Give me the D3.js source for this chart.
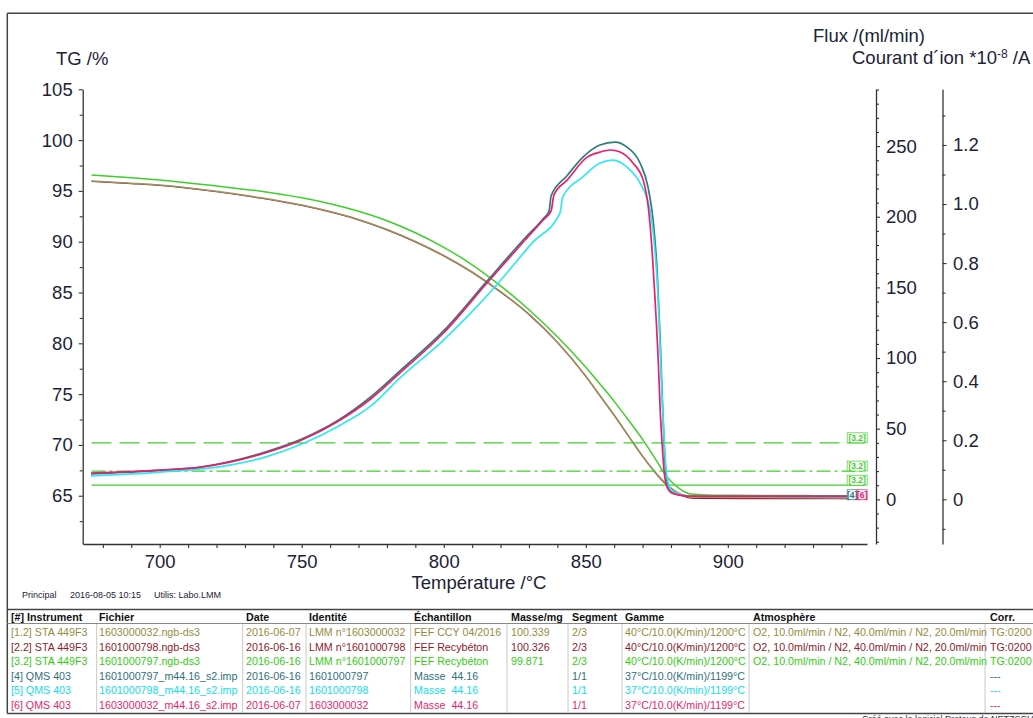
<!DOCTYPE html>
<html><head><meta charset="utf-8">
<script src="https://cdn.jsdelivr.net/npm/d3@7"></script>
<style>
body{margin:0;background:#fff;}
svg{display:block;font-family:"Liberation Sans",Arial,sans-serif;}
</style>
</head><body>
<svg id="c" width="1033" height="718"></svg>
<script>
// ---------------- DATA ----------------
const tgTemps = [676,690,700,720,735,750,760,770,780,790,800,810,820,830,840,850,855,860,865,870,875,878,881,884,887,895,910,930,948];
const tg12 = [95.97,95.76,95.58,94.96,94.35,93.61,92.97,92.19,91.20,90.02,88.64,87.02,85.10,82.88,80.13,76.78,74.86,72.94,70.92,68.91,67.14,66.25,65.56,65.09,64.87,64.84,64.82,64.80,64.78];
const tg22 = [95.93,95.72,95.54,94.92,94.31,93.57,92.93,92.15,91.16,89.98,88.60,86.98,85.06,82.84,80.09,76.74,74.82,72.90,70.88,68.86,67.09,66.19,65.49,65.00,64.76,64.73,64.72,64.71,64.70];
const tg32 = [96.56,96.29,96.07,95.48,94.99,94.32,93.73,92.99,92.06,90.88,89.45,87.73,85.66,83.30,80.64,77.64,75.99,74.29,72.45,70.55,68.41,67.08,66.15,65.51,65.17,65.05,65.03,65.01,64.99];

const fluxTemps = [676,948];
const fluxLevels = [40,20,10];

const ion4T = [675.8,700,714.5,724.7,737.1,750,762.4,774.7,784.6,800,815.6,828.6,835,837.1,837.8,843.4,849,855,860.3,864.5,869.1,871.9,873.7,875.1,876.2,876.9,877.6,878.3,879.4,881.5,886.8,948];
const ion4  = [0.086,0.098,0.109,0.128,0.160,0.204,0.265,0.350,0.435,0.571,0.743,0.885,0.950,0.977,1.028,1.096,1.159,1.200,1.210,1.193,1.139,1.058,0.946,0.776,0.540,0.353,0.184,0.079,0.035,0.018,0.011,0.010];
const ion5T = [675.8,700,724.7,737.1,750,762.4,774.7,784.6,800,809.2,818,831.4,840.9,841.9,849,855,859.6,864.5,869.1,872.6,874.4,875.5,876.2,876.9,877.6,878.3,879.1,880.4,886.8,948];
const ion5  = [0.079,0.092,0.116,0.143,0.187,0.245,0.319,0.411,0.540,0.628,0.719,0.871,0.969,1.024,1.092,1.139,1.149,1.125,1.071,0.980,0.834,0.675,0.506,0.337,0.201,0.099,0.052,0.028,0.011,0.008];
const ion6T = [675.8,700,714.5,724.7,737.1,750,762.4,774.7,784.6,800,815.6,828.6,835,837.8,838.8,843.4,850.5,855,858.6,862.1,866.6,870.2,872,873.4,874.4,875.5,876.2,876.9,877.6,878.6,880.4,885.7,948];
const ion6  = [0.089,0.099,0.109,0.126,0.157,0.201,0.262,0.343,0.428,0.564,0.737,0.878,0.946,0.977,1.031,1.081,1.159,1.176,1.183,1.176,1.139,1.081,0.990,0.834,0.675,0.472,0.302,0.184,0.092,0.042,0.021,0.011,0.010];

const xTicks = [700,750,800,850,900];
const xMinor = [680,690,710,720,730,740,760,770,780,790,810,820,830,840,860,870,880,890,910,920,930,940];
const tgTicks = [65,70,75,80,85,90,95,100,105];
const tgMinor = [62.5,67.5,72.5,77.5,82.5,87.5,92.5,97.5,102.5];
const fluxTicks = [0,50,100,150,200,250];
const fluxMinor = [-30,-20,-10,10,20,30,40,60,70,80,90,110,120,130,140,160,170,180,190,210,220,230,240,260,270,280,290];
const ionTicks = [0,0.2,0.4,0.6,0.8,1.0,1.2];
const ionMinor = [-0.1,0.1,0.3,0.5,0.7,0.9,1.1,1.3];

const tableHeader = ["[#] Instrument","Fichier","Date","Identité","Échantillon","Masse/mg","Segment","Gamme","Atmosphère","Corr."];
const tableRows = [
 ["[1.2] STA 449F3","1603000032.ngb-ds3","2016-06-07","LMM n°1603000032","FEF CCY 04/2016","100.339","2/3","40°C/10.0(K/min)/1200°C","O2, 10.0ml/min / N2, 40.0ml/min / N2, 20.0ml/min","TG:0200"],
 ["[2.2] STA 449F3","1601000798.ngb-ds3","2016-06-16","LMM n°1601000798","FEF Recybéton","100.326","2/3","40°C/10.0(K/min)/1200°C","O2, 10.0ml/min / N2, 40.0ml/min / N2, 20.0ml/min","TG:0200"],
 ["[3.2] STA 449F3","1601000797.ngb-ds3","2016-06-16","LMM n°1601000797","FEF Recybéton","99.871","2/3","40°C/10.0(K/min)/1200°C","O2, 10.0ml/min / N2, 40.0ml/min / N2, 20.0ml/min","TG:0200"],
 ["[4] QMS 403","1601000797_m44.16_s2.imp","2016-06-16","1601000797","Masse  44.16","","1/1","37°C/10.0(K/min)/1199°C","","---"],
 ["[5] QMS 403","1601000798_m44.16_s2.imp","2016-06-16","1601000798","Masse  44.16","","1/1","37°C/10.0(K/min)/1199°C","","---"],
 ["[6] QMS 403","1603000032_m44.16_s2.imp","2016-06-07","1603000032","Masse  44.16","","1/1","37°C/10.0(K/min)/1199°C","","---"]
];

// ---------------- STYLE ----------------
const col = {olive:"#9d9460", oliveTxt:"#9a8a3e", dred:"#8e1a2a", green:"#3fcf2a", greenTxt:"#33cc11",
             teal:"#2e7b7e", tealTxt:"#2f6f7a", cyan:"#2ee8f5", cyanTxt:"#14dcea", pink:"#ea1e6c"};
const rowColors = [col.oliveTxt, col.dred, col.greenTxt, col.tealTxt, col.cyanTxt, col.pink];
const txt = "#1d2236";

const svg = d3.select("#c");

const x = d3.scaleLinear([673,949],[83,867]);
const yTG = d3.scaleLinear([60.25,105],[544,89.3]);
const yFlux = d3.scaleLinear([-31.6,290.2],[544,89.3]);
const yIon = d3.scaleLinear([-0.1514,1.3886],[544,89.3]);

// frame
svg.append("line").attr("x1",7.3).attr("x2",1033).attr("y1",13.3).attr("y2",13.3).attr("stroke","#444").attr("stroke-width",1.5);
svg.append("line").attr("x1",7.3).attr("x2",7.3).attr("y1",13.3).attr("y2",713.5).attr("stroke","#444").attr("stroke-width",1.5);

function styleAxis(g){
  g.selectAll(".domain").attr("stroke","#333").attr("stroke-width",1.3);
  g.selectAll(".tick line").attr("stroke","#333").attr("stroke-width",1.1);
  g.selectAll(".tick text").attr("fill",txt).attr("font-size","18.5px").attr("font-family","Liberation Sans, Arial, sans-serif");
}
// left axis
const gL = svg.append("g").attr("transform","translate(82.7,0)")
  .call(d3.axisLeft(yTG).tickValues(tgTicks).tickSize(4).tickSizeOuter(0).tickPadding(6));
styleAxis(gL);
const gLm = svg.append("g").attr("transform","translate(82.7,0)")
  .call(d3.axisLeft(yTG).tickValues(tgMinor).tickSize(3).tickFormat(""));
gLm.select(".domain").remove(); styleAxis(gLm);

// bottom axis
const gB = svg.append("g").attr("transform","translate(0,544)")
  .call(d3.axisBottom(x).tickValues(xTicks).tickSize(4).tickSizeOuter(0).tickPadding(7));
styleAxis(gB);
const gBm = svg.append("g").attr("transform","translate(0,544)")
  .call(d3.axisBottom(x).tickValues(xMinor).tickSize(4).tickFormat(""));
gBm.select(".domain").remove(); styleAxis(gBm);

// right flux axis
const gF = svg.append("g").attr("transform","translate(876,0)")
  .call(d3.axisRight(yFlux).tickValues(fluxTicks).tickSize(4).tickSizeOuter(0).tickPadding(6));
styleAxis(gF);
const gFm = svg.append("g").attr("transform","translate(876,0)")
  .call(d3.axisRight(yFlux).tickValues(fluxMinor).tickSize(3).tickFormat(""));
gFm.select(".domain").remove(); styleAxis(gFm);

// right ion axis
const gI = svg.append("g").attr("transform","translate(942.5,0)")
  .call(d3.axisRight(yIon).tickValues(ionTicks).tickSize(4).tickSizeOuter(0).tickPadding(6.5)
        .tickFormat(d => d===0 ? "0" : d.toFixed(1)));
styleAxis(gI);
const gIm = svg.append("g").attr("transform","translate(942.5,0)")
  .call(d3.axisRight(yIon).tickValues(ionMinor).tickSize(3).tickFormat(""));
gIm.select(".domain").remove(); styleAxis(gIm);

// titles
svg.append("text").attr("x",56).attr("y",65).attr("font-size","18.5px").attr("fill",txt).text("TG /%");
svg.append("text").attr("x",813).attr("y",42).attr("font-size","18.5px").attr("fill",txt).text("Flux /(ml/min)");
const ct = svg.append("text").attr("x",852).attr("y",64).attr("font-size","18.5px").attr("fill",txt);
ct.append("tspan").text("Courant d´ion *10");
ct.append("tspan").attr("font-size","12px").attr("dy",-6).text("-8");
ct.append("tspan").attr("dy",6).text(" /A");
svg.append("text").attr("x",479).attr("y",589).attr("text-anchor","middle").attr("font-size","18.5px").attr("fill",txt).text("Température /°C");

svg.append("text").attr("x",22).attr("y",598).attr("font-size","9px").attr("fill",txt).text("Principal");
svg.append("text").attr("x",70).attr("y",598).attr("font-size","9px").attr("fill",txt).text("2016-08-05 10:15");
svg.append("text").attr("x",154).attr("y",598).attr("font-size","9px").attr("fill",txt).text("Utilis: Labo.LMM");

// ---------------- LINES ----------------
const zip = (a,b) => a.map((v,i)=>[v,b[i]]);
const lineTG = d3.line().x(d=>x(d[0])).y(d=>yTG(d[1])).curve(d3.curveMonotoneX);
const lineIon = d3.line().x(d=>x(d[0])).y(d=>yIon(d[1])).curve(d3.curveMonotoneX);
const lineFlux = d3.line().x(d=>x(d[0])).y(d=>yFlux(d[1]));

const plot = svg.append("g");
plot.append("path").attr("d",lineTG(zip(tgTemps,tg22))).attr("fill","none").attr("stroke",col.dred).attr("stroke-width",1.2);
plot.append("path").attr("d",lineTG(zip(tgTemps,tg12))).attr("fill","none").attr("stroke",col.olive).attr("stroke-width",1.5);
plot.append("path").attr("d",lineTG(zip(tgTemps,tg32))).attr("fill","none").attr("stroke",col.green).attr("stroke-width",1.5);

const dashes = ["20,8","14,4,3,4",null];
fluxLevels.forEach((lv,i)=>{
  const p = plot.append("path").attr("d",lineFlux(fluxTemps.map(t=>[t,lv]))).attr("fill","none")
    .attr("stroke",col.green).attr("stroke-width",1.2);
  if(dashes[i]) p.attr("stroke-dasharray",dashes[i]);
});

plot.append("path").attr("d",lineIon(zip(ion4T,ion4))).attr("fill","none").attr("stroke",col.teal).attr("stroke-width",1.7);
plot.append("path").attr("d",lineIon(zip(ion5T,ion5))).attr("fill","none").attr("stroke",col.cyan).attr("stroke-width",1.7);
plot.append("path").attr("d",lineIon(zip(ion6T,ion6))).attr("fill","none").attr("stroke",col.pink).attr("stroke-width",1.7);

// end labels
function endLabel(label, xr, w, yBottom, color){
  const h = 10;
  plot.append("rect").attr("x",xr-w).attr("y",yBottom-h).attr("width",w).attr("height",h)
    .attr("fill","#fff").attr("stroke",color).attr("stroke-width",0.7).attr("fill-opacity",0.85);
  plot.append("text").attr("x",xr-w/2).attr("y",yBottom-2).attr("text-anchor","middle")
    .attr("font-size","8.5px").attr("font-weight","bold").attr("fill",color).text(label);
}
const xEnd = x(948)+3;
fluxLevels.forEach(lv=>endLabel("[3.2]", xEnd, 20, yFlux(lv), col.green));
endLabel("[4]", xEnd-10, 10, yTG(64.6), col.teal);
endLabel("[6]", xEnd, 10, yTG(64.6), col.pink);

// ---------------- TABLE ----------------
const colX = [11,99,246,309,414,511,572,625,753,990];
const sepX = [96.7,242.7,306,410.7,507,568,622,749,985];
const T = svg.append("g").attr("font-size","10.7px");
T.append("line").attr("x1",7.3).attr("x2",1033).attr("y1",609.5).attr("y2",609.5).attr("stroke","#444").attr("stroke-width",1.4);
T.append("line").attr("x1",7.3).attr("x2",1033).attr("y1",623.5).attr("y2",623.5).attr("stroke","#888").attr("stroke-width",1);
T.append("line").attr("x1",7.3).attr("x2",1033).attr("y1",713.5).attr("y2",713.5).attr("stroke","#444").attr("stroke-width",1.4);
sepX.forEach(sx=>T.append("line").attr("x1",sx).attr("x2",sx).attr("y1",624).attr("y2",713).attr("stroke","#c8c8c8").attr("stroke-width",1));
tableHeader.forEach((h,i)=>T.append("text").attr("x",colX[i]).attr("y",621).attr("font-weight","bold").attr("fill","#111").text(h));
tableRows.forEach((r,ri)=>{
  r.forEach((c,ci)=>{
    T.append("text").attr("x",colX[ci]).attr("y",636+ri*14.6).attr("fill",rowColors[ri])
      .attr("xml:space","preserve").style("white-space","pre").text(c);
  });
});
svg.append("text").attr("x",862).attr("y",722).attr("font-size","9px").attr("fill","#333").text("Créé avec le logiciel Proteus de NETZSCH");
</script>
</body></html>
